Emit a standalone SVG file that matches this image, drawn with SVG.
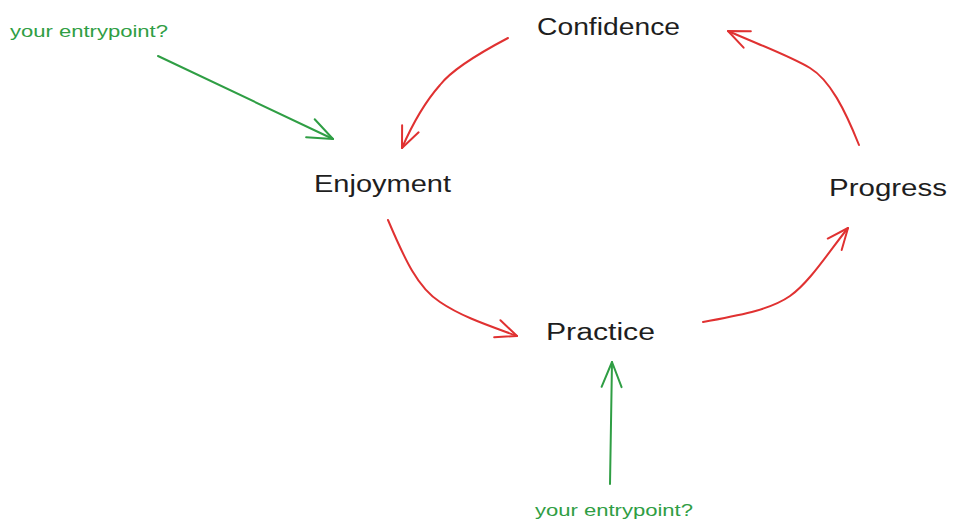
<svg xmlns="http://www.w3.org/2000/svg" width="957" height="532" viewBox="0 0 957 532">
<style>
.node{font-family:"Liberation Sans","DejaVu Sans",sans-serif;font-size:23px;fill:#1e1e1e;}
.note{font-family:"Liberation Sans","DejaVu Sans",sans-serif;font-size:16px;fill:#2f9e44;}
.red{fill:none;stroke:#e03131;stroke-width:2;stroke-linecap:round;stroke-linejoin:round;}
.green{fill:none;stroke:#2f9e44;stroke-width:2;stroke-linecap:round;stroke-linejoin:round;}
</style>
<defs>
<marker id="ar" markerUnits="userSpaceOnUse" markerWidth="40" markerHeight="40" viewBox="-30 -20 40 40" refX="0" refY="0" orient="auto" overflow="visible">
<path d="M-21,-9 L0,0 L-21,9" fill="none" stroke="#e03131" stroke-width="2" stroke-linecap="round" stroke-linejoin="round"/>
</marker>
<marker id="ag" markerUnits="userSpaceOnUse" markerWidth="40" markerHeight="40" viewBox="-30 -20 40 40" refX="0" refY="0" orient="auto" overflow="visible">
<path d="M-25,-10 L0,0 L-25,10" fill="none" stroke="#2f9e44" stroke-width="2" stroke-linecap="round" stroke-linejoin="round"/>
</marker>
</defs>
<rect width="957" height="532" fill="#ffffff"/>
<g id="connectors">
<path class="red" d="M508,38 C470,58 450,72 440,85 C425,102 412,125 402,148" marker-end="url(#ar)"/>
<path class="red" d="M859,145 C845,110 830,80 810,68 C790,56 760,45 728,31" marker-end="url(#ar)"/>
<path class="red" d="M388,220 C405,260 418,288 440,302 C462,317 490,326 517,336" marker-end="url(#ar)"/>
<path class="red" d="M703,322 C740,315 770,310 790,296 C810,282 830,250 848,228" marker-end="url(#ar)"/>
<path class="green" d="M158,56 L333,139" marker-end="url(#ag)"/>
<path class="green" d="M610,484 L612,362" marker-end="url(#ag)"/>
</g>
<g id="confidence"><text class="node" x="537" y="35" textLength="143" lengthAdjust="spacingAndGlyphs">Confidence</text></g>
<g id="enjoyment"><text class="node" x="314" y="192" textLength="137" lengthAdjust="spacingAndGlyphs">Enjoyment</text></g>
<g id="progress"><text class="node" x="829" y="196" textLength="118" lengthAdjust="spacingAndGlyphs">Progress</text></g>
<g id="practice"><text class="node" x="546" y="340" textLength="109" lengthAdjust="spacingAndGlyphs">Practice</text></g>
<g id="entry-top"><text class="note" x="10" y="37" textLength="158" lengthAdjust="spacingAndGlyphs">your entrypoint?</text></g>
<g id="entry-bottom"><text class="note" x="535" y="516" textLength="158" lengthAdjust="spacingAndGlyphs">your entrypoint?</text></g>
</svg>
